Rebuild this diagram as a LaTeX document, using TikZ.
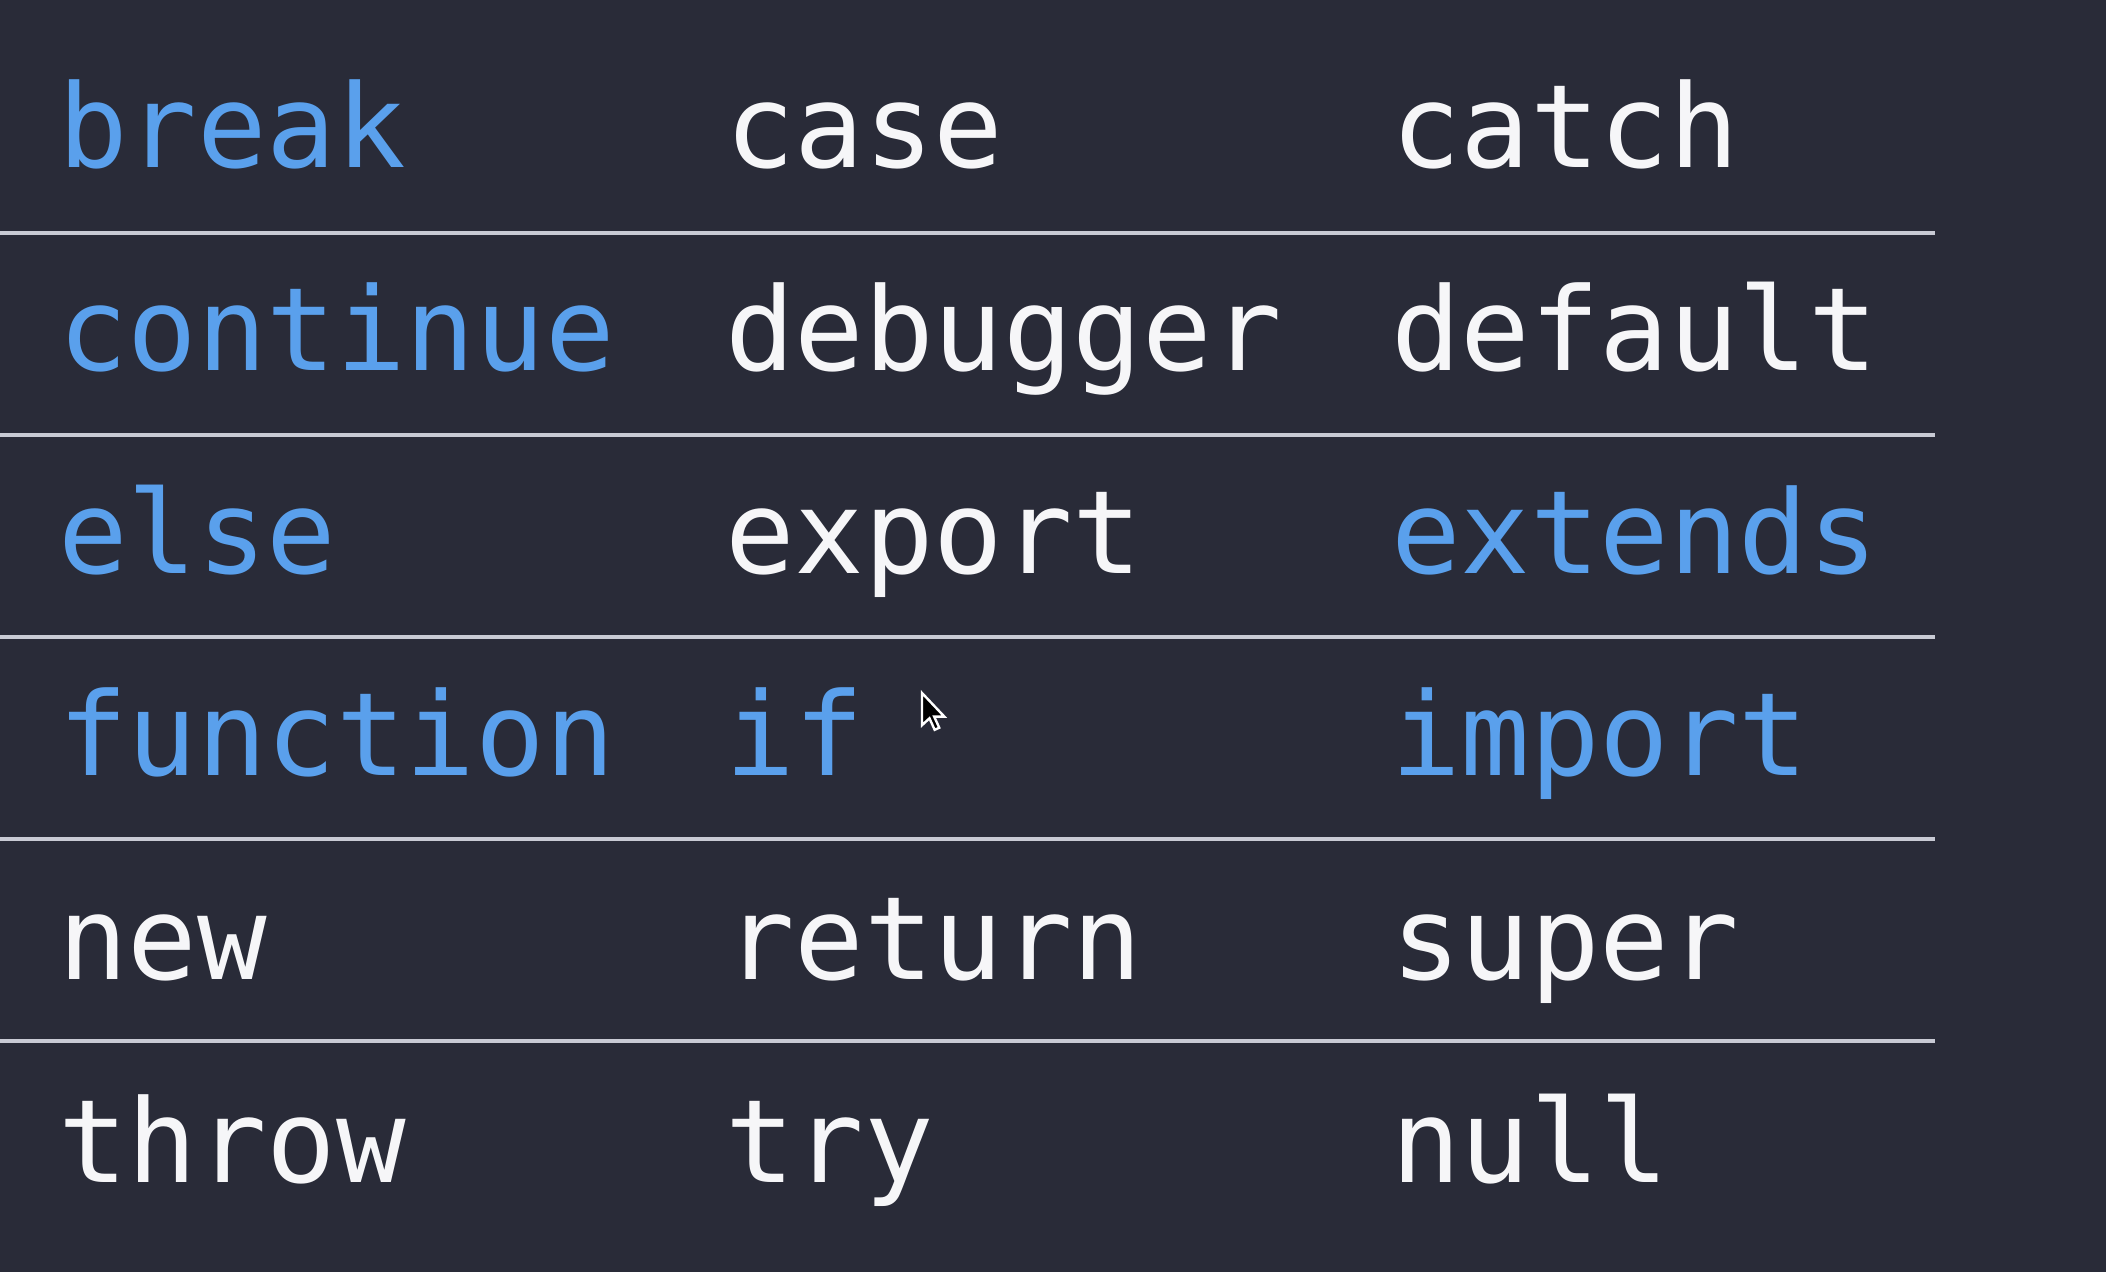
\documentclass[tikz,border=0pt]{standalone}
\usepackage{fontspec}
\setmonofont{DejaVu Sans Mono}
\definecolor{bg}{RGB}{41,43,56}
\definecolor{kwblue}{RGB}{90,160,236}
\definecolor{kwwhite}{RGB}{246,246,248}
\definecolor{rule}{RGB}{200,202,212}
\tikzset{
  word/.style={anchor=base west, inner sep=0pt, outer sep=0pt, font=\ttfamily\fontsize{57.8}{65}\selectfont},
  kw/.style={word, text=kwblue},
  plain/.style={word, text=kwwhite},
  sep/.style={draw=rule, line width=1.9pt},
}
\begin{document}
\begin{tikzpicture}[x=0.5pt,y=-0.5pt]
\fill[bg] (0,0) rectangle (2106,1272);
\useasboundingbox (0,0) rectangle (2106,1272);
% row 1
\node[kw]    (r1a) at (58,168) {break};
\node[plain] (r1b) at (725,168) {case};
\node[plain] (r1c) at (1391,168) {catch};
% row 2
\node[kw]    (r2a) at (58,371) {continue};
\node[plain] (r2b) at (725,371) {debugger};
\node[plain] (r2c) at (1391,371) {default};
% row 3
\node[kw]    (r3a) at (58,574) {else};
\node[plain] (r3b) at (725,574) {export};
\node[kw]    (r3c) at (1391,574) {extends};
% row 4
\node[kw]    (r4a) at (58,776) {function};
\node[kw]    (r4b) at (725,776) {if};
\node[kw]    (r4c) at (1391,776) {import};
% row 5
\node[plain] (r5a) at (58,979) {new};
\node[plain] (r5b) at (725,979) {return};
\node[plain] (r5c) at (1391,979) {super};
% row 6
\node[plain] (r6a) at (58,1182) {throw};
\node[plain] (r6b) at (725,1182) {try};
\node[plain] (r6c) at (1391,1182) {null};
% separators
\foreach \yy in {233,435,637,839,1041}{
  \draw[sep] (0,\yy) -- (1935,\yy);
}
% mouse cursor
\begin{scope}[shift={(922,693)}, scale=1.15]
\draw[fill=black, draw=white, line width=1.2pt, line join=miter]
  (0,0) -- (0,28) -- (6.5,22) -- (11,32) -- (15,30.2) -- (10.6,20.6) -- (19.5,20.6) -- cycle;
\end{scope}
\end{tikzpicture}
\end{document}
